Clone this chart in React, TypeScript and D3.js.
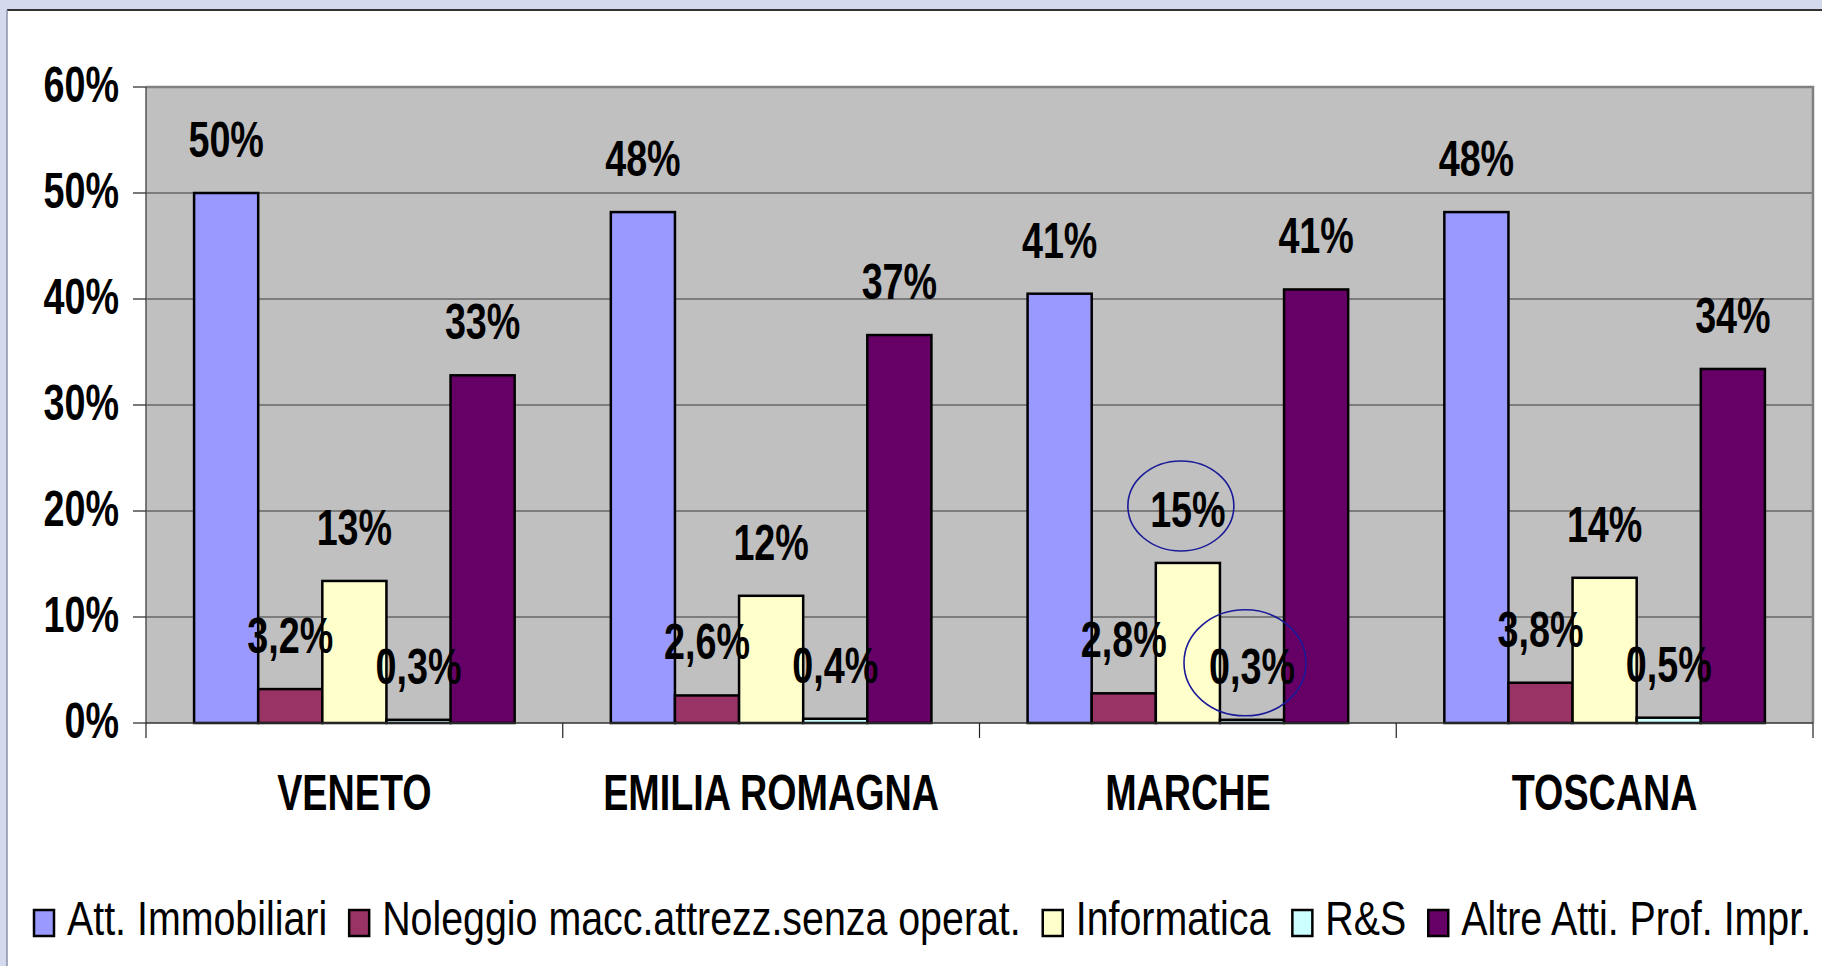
import React, { useEffect, useRef } from "react";
import * as d3 from "d3";

const regions = ["VENETO", "EMILIA ROMAGNA", "MARCHE", "TOSCANA"];
const seriesNames = [
  "Att. Immobiliari",
  "Noleggio macc.attrezz.senza operat.",
  "Informatica",
  "R&S",
  "Altre Atti. Prof. Impr.",
];
const seriesColors = ["#9999ff", "#993366", "#ffffcc", "#ccffff", "#660066"];
// values per region, one entry per series (percent)
const veneto = [50.0, 3.2, 13.4, 0.3, 32.8];
const emilia = [48.2, 2.6, 12.0, 0.4, 36.6];
const marche = [40.5, 2.8, 15.1, 0.3, 40.9];
const toscana = [48.2, 3.8, 13.7, 0.5, 33.4];
const labelsVeneto = ["50%", "3,2%", "13%", "0,3%", "33%"];
const labelsEmilia = ["48%", "2,6%", "12%", "0,4%", "37%"];
const labelsMarche = ["41%", "2,8%", "15%", "0,3%", "41%"];
const labelsToscana = ["48%", "3,8%", "14%", "0,5%", "34%"];
const yTicks = [0, 10, 20, 30, 40, 50, 60];
// labels circled in blue (region, series)
const circled = [
  ["MARCHE", 2],
  ["MARCHE", 3],
];

const W = 1822;
const H = 966;
const FONT = "'Liberation Sans', Arial, sans-serif";
const NARROW = 0.82; // no narrow font installed, squeeze horizontally

const App = () => {
  const ref = useRef(null);

  useEffect(() => {
    const svg = d3.select(ref.current);
    svg.selectAll("*").remove();

    const values = [veneto, emilia, marche, toscana];
    const labels = [labelsVeneto, labelsEmilia, labelsMarche, labelsToscana];
    const data = regions.map((r, i) => ({
      region: r,
      vals: values[i].map((v, j) => ({ s: j, v, label: labels[i][j] })),
    }));

    const left = 146, right = 1813, top = 87, bottom = 723;

    // background + white panel
    svg.append("rect").attr("width", W).attr("height", H).attr("fill", "#d4d9ee");
    svg.append("rect").attr("x", 7).attr("y", 10).attr("width", W).attr("height", H).attr("fill", "#fff");
    svg.append("line").attr("x1", 7).attr("x2", W).attr("y1", 10).attr("y2", 10)
      .attr("stroke", "#333").attr("stroke-width", 2);
    svg.append("line").attr("x1", 7).attr("x2", 7).attr("y1", 10).attr("y2", H)
      .attr("stroke", "#8a8fa8").attr("stroke-width", 1.5);

    const x0 = d3.scaleBand().domain(regions).range([left, right]).padding(0);
    const x1 = d3.scaleBand().domain(d3.range(5)).range([0, x0.bandwidth()])
      .paddingInner(0).paddingOuter(0.75);
    const y = d3.scaleLinear().domain([0, 60]).range([bottom, top]);

    // plot area
    svg.append("rect").attr("x", left).attr("y", top).attr("width", right - left)
      .attr("height", bottom - top).attr("fill", "#c0c0c0");

    svg.append("g").selectAll("line").data(yTicks.filter(t => t > 0 && t < 60)).enter()
      .append("line")
      .attr("x1", left).attr("x2", right)
      .attr("y1", d => y(d)).attr("y2", d => y(d))
      .attr("stroke", "#3a3a3a").attr("stroke-width", 1.2);

    // plot border (top/right)
    svg.append("path")
      .attr("d", `M${left},${y(60)}H${right}V${bottom}`)
      .attr("fill", "none").attr("stroke", "#808080").attr("stroke-width", 2.5);

    // bars
    const groups = svg.append("g").selectAll("g").data(data).enter()
      .append("g").attr("transform", d => `translate(${x0(d.region)},0)`);

    groups.selectAll("rect").data(d => d.vals).enter().append("rect")
      .attr("x", d => x1(d.s))
      .attr("y", d => y(d.v))
      .attr("width", x1.bandwidth())
      .attr("height", d => y(0) - y(d.v))
      .attr("fill", d => seriesColors[d.s])
      .attr("stroke", "#000").attr("stroke-width", 2.5);

    // axes
    svg.append("line").attr("x1", left).attr("x2", left).attr("y1", top).attr("y2", bottom)
      .attr("stroke", "#555").attr("stroke-width", 1.5);
    svg.append("line").attr("x1", left).attr("x2", right).attr("y1", bottom).attr("y2", bottom)
      .attr("stroke", "#333").attr("stroke-width", 1.5);

    svg.append("g").selectAll("line").data(yTicks).enter().append("line")
      .attr("x1", left - 13).attr("x2", left)
      .attr("y1", d => y(d)).attr("y2", d => y(d))
      .attr("stroke", "#222").attr("stroke-width", 1.2);

    const catEdges = regions.map(r => x0(r)).concat([right]);
    svg.append("g").selectAll("line").data(catEdges).enter().append("line")
      .attr("x1", d => d).attr("x2", d => d)
      .attr("y1", bottom).attr("y2", bottom + 15)
      .attr("stroke", "#222").attr("stroke-width", 1.2);

    const txt = (sel, xf, yf) =>
      sel.attr("transform", (d, i) => `translate(${xf(d, i)},${yf(d, i)}) scale(${NARROW},1.07)`);

    // y tick labels
    txt(svg.append("g").selectAll("text").data(yTicks).enter().append("text"),
      () => 119, d => y(d) + 15)
      .attr("text-anchor", "end")
      .style("font-family", FONT).style("font-weight", "bold").style("font-size", "46px")
      .text(d => `${d}%`);

    // data labels
    txt(groups.selectAll("text").data(d => d.vals).enter().append("text"),
      d => x1(d.s) + x1.bandwidth() / 2, d => y(d.v) - 36)
      .attr("text-anchor", "middle")
      .style("font-family", FONT).style("font-weight", "bold").style("font-size", "46px")
      .text(d => d.label);

    // blue ellipses
    svg.append("g").selectAll("ellipse").data(circled).enter().append("ellipse")
      .attr("cx", d => x0(d[0]) + x1(d[1]) + x1.bandwidth() / 2 - 7)
      .attr("cy", d => y(values[regions.indexOf(d[0])][d[1]]) - 57)
      .attr("rx", d => (d[1] === 2 ? 53 : 61))
      .attr("ry", d => (d[1] === 2 ? 45 : 53))
      .attr("fill", "none").attr("stroke", "#1a1a99").attr("stroke-width", 1.6);

    // category labels
    txt(svg.append("g").selectAll("text").data(regions).enter().append("text"),
      d => x0(d) + x0.bandwidth() / 2, () => 810)
      .attr("text-anchor", "middle")
      .style("font-family", FONT).style("font-weight", "bold").style("font-size", "46px")
      .text(d => d);

    // legend
    const leg = svg.append("g");
    let lx = 34;
    seriesNames.forEach((name, i) => {
      leg.append("rect").attr("x", lx).attr("y", 910).attr("width", 20).attr("height", 26)
        .attr("fill", seriesColors[i]).attr("stroke", "#000").attr("stroke-width", 2.5);
      const t = leg.append("text")
        .attr("transform", `translate(${lx + 33},935) scale(${NARROW},1)`)
        .style("font-family", FONT).style("font-size", "48px")
        .text(name);
      const len = t.node().getComputedTextLength() * NARROW;
      lx += 33 + len + 22;
    });
  }, []);

  return (
    <svg ref={ref} width={W} height={H}
      style={{ position: "absolute", left: 0, top: 0, display: "block" }} />
  );
};

export default App;
